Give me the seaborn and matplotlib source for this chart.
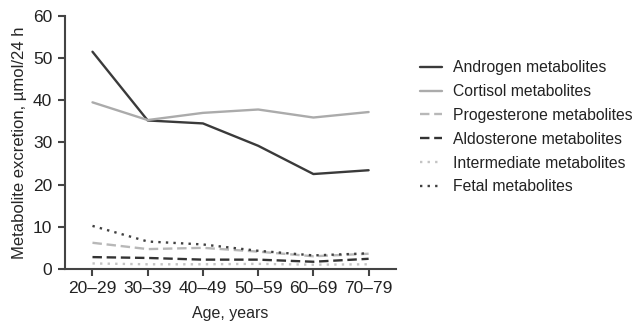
import matplotlib
matplotlib.use("Agg")
import matplotlib.pyplot as plt
import seaborn as sns
import pandas as pd

ages = ["20–29", "30–39", "40–49", "50–59", "60–69", "70–79"]
androgen = [51.5, 35.2, 34.5, 29.2, 22.5, 23.4]
cortisol = [39.5, 35.3, 37.0, 37.8, 35.9, 37.2]
progesterone = [6.2, 4.7, 5.0, 4.1, 3.0, 3.6]
aldosterone = [2.8, 2.6, 2.2, 2.2, 1.7, 2.4]
intermediate = [1.3, 1.1, 1.1, 1.2, 1.0, 1.1]
fetal = [10.2, 6.5, 5.8, 4.3, 3.2, 3.7]

series_names = ["Androgen metabolites", "Cortisol metabolites", "Progesterone metabolites",
                "Aldosterone metabolites", "Intermediate metabolites", "Fetal metabolites"]
series_vals = [androgen, cortisol, progesterone, aldosterone, intermediate, fetal]
styles = [("#3a3a3a", "-"), ("#ababab", "-"), ("#b8b8b8", (0, (4, 2.0))),
          ("#333333", (0, (4, 2.0))), ("#c4c4c4", (0, (1, 2.2))), ("#404040", (0, (1, 2.2)))]

sns.set_style("white")
plt.rcParams['font.family'] = ['Liberation Sans', 'DejaVu Sans']

fig = plt.figure(figsize=(6.36, 3.24), dpi=100)
ax = fig.add_axes([0.102, 0.170, 0.521, 0.781])

for name, vals, (col, ls) in zip(series_names, series_vals, styles):
    df = pd.DataFrame({"age": ages, "v": vals})
    sns.lineplot(data=df, x="age", y="v", ax=ax, color=col, linestyle=ls,
                 linewidth=1.7, label=name, sort=False)

ax.set_xlim(-0.5, 5.5)
ax.set_ylim(0, 60)
ax.set_yticks(range(0, 61, 10))
ax.set_xlabel("Age, years", fontsize=11.5, labelpad=7)
ax.set_ylabel("Metabolite excretion, µmol/24 h", fontsize=12, labelpad=4)
for s in ["top", "right"]:
    ax.spines[s].set_visible(False)
for s in ["left", "bottom"]:
    ax.spines[s].set_color("#444444")
    ax.spines[s].set_linewidth(1.5)
ax.tick_params(axis="both", direction="out", length=5, width=1.5, color="#444444",
               labelsize=12.5, labelcolor="#222222", left=True, bottom=True, pad=4)

leg = ax.legend(loc="upper left", bbox_to_anchor=(1.028, 0.88), frameon=False,
                fontsize=11.3, handlelength=1.4, handletextpad=0.75, labelspacing=0.56)
for t in leg.get_texts():
    t.set_color("#222222")

fig.savefig("out.png", dpi=100, facecolor="white")
